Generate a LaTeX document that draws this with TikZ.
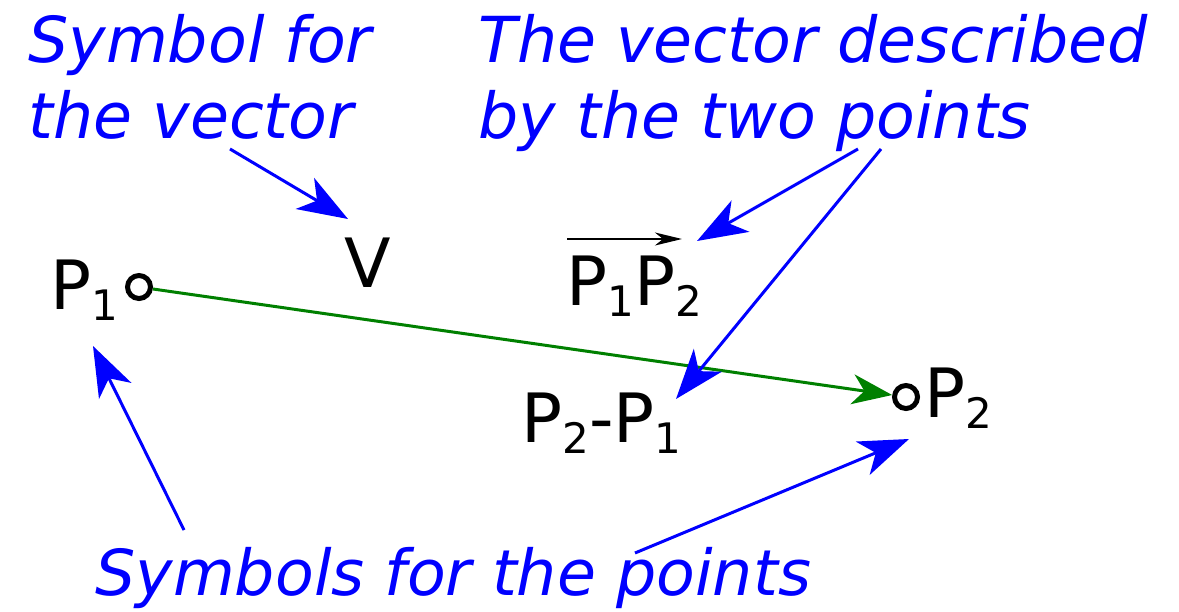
\documentclass[tikz,border=0pt]{standalone}
\usepackage{fontspec}
\setmainfont{DejaVu Sans}
\usepackage{tikz}
\usetikzlibrary{arrows.meta,positioning}
\newcommand{\idx}[1]{\raisebox{-5.5pt}{\fontsize{21}{21}\selectfont #1}}

\begin{document}
\begin{tikzpicture}[x=0.5pt, y=-0.5pt,
    note/.style={text=blue, inner sep=0pt, align=left, font=\itshape\fontsize{31.7}{38}\selectfont},
    sym/.style={inner sep=0pt, font=\fontsize{34}{40}\selectfont},
    dot/.style={circle, draw, line width=2.5pt, inner sep=0pt, minimum size=11.5pt},
    pointer/.style={blue, line width=1.5pt, -{Stealth[length=25pt, width=18pt, inset=7pt]}},
    vecline/.style={green!50!black, line width=1.5pt, -{Stealth[length=20pt, width=15pt, inset=6pt]}}]
  \useasboundingbox (0,0) rectangle (1179,611);
		% labels
		\node[note, anchor=north west] (symvec) at (28,14) {Symbol for\\the vector};
		\node[note, anchor=north west] (vecdesc) at (478,14) {The vector described\\by the two points};
		\node[note, anchor=base west] (sympts) at (95,595) {Symbols for the points};
		% points and symbols
		\node[dot] (p1dot) at (139,287) {};
		\node[dot] (p2dot) at (906,397) {};
		\node[sym, anchor=base west] (P1) at (50,309) {P\idx{1}};
		\node[sym, anchor=base west] (P2) at (924,417) {P\idx{2}};
		\node[sym, anchor=base west] (V) at (344,287) {V};
		\node[sym, anchor=base west] (P1P2) at (566,305) {P\idx{1}P\idx{2}};
		\node[sym, anchor=base west] (diff) at (521,442) {P\idx{2}-P\idx{1}};
		\coordinate (ovl) at (567,239);
		\coordinate (ovr) at (682,239);
		\draw[line width=1pt, -{Stealth[length=13.5pt, width=6.5pt, inset=4pt]}] (ovl) -- (ovr);
		\draw[vecline] (p1dot) -- (p2dot);
		% pointers
		\coordinate (s1) at (230,149);
		\coordinate (t1) at (348,219);
		\coordinate (s2) at (858,149);
		\coordinate (t2) at (697,241);
		\coordinate (s3) at (881,149);
		\coordinate (t3) at (676,399);
		\coordinate (s4) at (184,530);
		\coordinate (t4) at (93,346);
		\coordinate (s5) at (635,553);
		\coordinate (t5) at (909,439);
		\draw[pointer] (s1) -- (t1);
		\draw[pointer] (s2) -- (t2);
		\draw[pointer] (s3) -- (t3);
		\draw[pointer] (s4) -- (t4);
		\draw[pointer] (s5) -- (t5);
	\end{tikzpicture}
\end{document}
